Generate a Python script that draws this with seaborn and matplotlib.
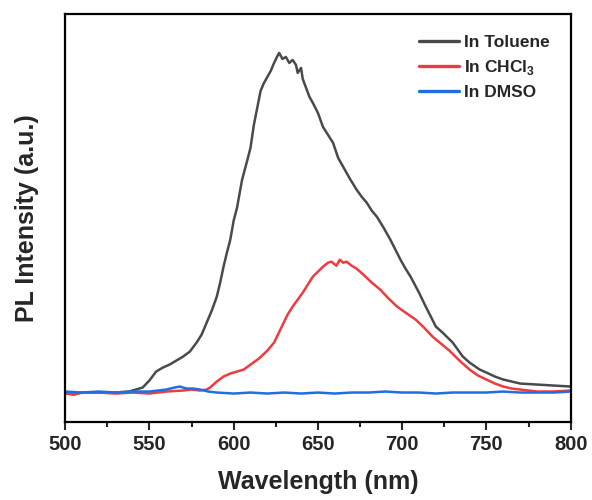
import pandas as pd
import matplotlib
matplotlib.use('Agg')
import matplotlib.pyplot as plt
from matplotlib.ticker import MultipleLocator
import seaborn as sns

# PL spectra in three solvents (arbitrary units)
wl_tol = [500, 505, 510, 520, 530, 538, 546, 550, 554, 558, 562, 566, 570, 574, 578, 581, 584, 587,
          590, 592, 594, 596, 598, 600, 602, 605, 608, 610, 612, 614, 616, 618, 620, 622, 624, 626,
          627, 629, 631, 633, 635, 637, 638, 640, 641, 643, 645, 647, 650, 653, 656, 659, 662, 665,
          669, 673, 676, 679, 682, 685, 689, 693, 696, 699, 702, 705, 710, 714, 720, 724, 730, 736,
          740, 746, 750, 755, 760, 765, 770, 780, 790, 800]
pl_tol = [0, -2, 0, 0, 0, 1, 5, 12, 21, 25, 28, 32, 36, 41, 50, 58, 70, 82,
          96, 110, 126, 140, 153, 172, 185, 213, 232, 245, 268, 285, 302, 310, 316, 322, 330, 337,
          340, 334, 336, 330, 333, 328, 320, 325, 314, 305, 296, 290, 280, 266, 258, 250, 235, 226,
          214, 203, 196, 190, 182, 176, 165, 153, 143, 133, 124, 116, 100, 86, 66, 60, 50, 36,
          30, 23, 20, 16, 13, 11, 9, 8, 7, 6]

wl_chcl3 = [500, 505, 510, 520, 530, 540, 550, 560, 570, 575, 580, 584, 586, 590, 594, 598, 602, 606,
            610, 615, 620, 624, 628, 632, 635, 638, 641, 644, 647, 650, 653, 656, 658, 661, 663, 665,
            667, 670, 673, 677, 682, 687, 692, 697, 702, 708, 713, 718, 723, 728, 734, 740, 745, 750,
            755, 760, 765, 770, 780, 790, 800]
pl_chcl3 = [-1, -2, 0, 0, -1, 0, -1, 1, 2, 3, 2, 3, 5, 11, 16, 19, 21, 23,
            28, 34, 42, 50, 64, 78, 86, 93, 100, 108, 116, 121, 126, 130, 131, 127, 133, 130,
            131, 127, 124, 118, 110, 103, 94, 86, 80, 73, 65, 56, 49, 42, 32, 23, 17, 13,
            9, 6, 4, 3, 1, 1, 2]

wl_dmso = [500, 510, 520, 530, 540, 550, 555, 560, 565, 568, 572, 576, 580, 585, 590, 600, 610, 620,
           630, 640, 650, 660, 670, 680, 690, 700, 710, 720, 730, 740, 750, 760, 770, 780, 790, 800]
pl_dmso = [1, 0, 1, 0, 1, 1, 2, 3, 5, 6, 4, 4, 3, 1, 0, -1, 0, -1,
           0, -1, 0, -1, 0, 0, 1, 0, 0, -1, 0, 0, 0, 1, 0, 0, 0, 1]

labels = ['In Toluene', r'In CHCl$_{\mathbf{3}}$', 'In DMSO']
colors = ['#4a4a4a', '#ef3b3e', '#1f6fe3']

df = pd.concat([
    pd.DataFrame({'wl': wl_tol, 'pl': pl_tol, 'solvent': labels[0]}),
    pd.DataFrame({'wl': wl_chcl3, 'pl': pl_chcl3, 'solvent': labels[1]}),
    pd.DataFrame({'wl': wl_dmso, 'pl': pl_dmso, 'solvent': labels[2]}),
])

sns.set_style('white')
plt.rcParams['font.family'] = ['Liberation Sans', 'DejaVu Sans']
plt.rcParams['font.weight'] = 'bold'
plt.rcParams['mathtext.fontset'] = 'custom'
plt.rcParams['mathtext.rm'] = 'Liberation Sans:bold'
plt.rcParams['mathtext.bf'] = 'Liberation Sans:bold'

fig = plt.figure(figsize=(5.92, 5.0), dpi=100)
ax = fig.add_axes([0.11, 0.157, 0.854, 0.815])

sns.lineplot(data=df, x='wl', y='pl', hue='solvent', palette=dict(zip(labels, colors)),
             estimator=None, linewidth=1.8, ax=ax)

ax.set_xlim(500, 800)
ax.set_ylim(-29, 379)
ax.xaxis.set_major_locator(MultipleLocator(50))
ax.xaxis.set_minor_locator(MultipleLocator(25))
ax.set_yticks([])
ax.tick_params(axis='x', which='major', direction='out', length=6, width=1.5,
               labelsize=14.5, pad=4, bottom=True)
ax.tick_params(axis='x', which='minor', direction='out', length=3.5, width=1.5, bottom=True)
for lab in ax.get_xticklabels():
    lab.set_fontweight('bold')
for s in ax.spines.values():
    s.set_linewidth(1.6)
    s.set_color('black')

ax.set_xlabel('Wavelength (nm)', fontsize=18, fontweight='bold', labelpad=11)
ax.set_ylabel('PL Intensity (a.u.)', fontsize=18, fontweight='bold', labelpad=19)

leg = ax.legend(loc='upper right', frameon=False, fontsize=12.5, handlelength=2.3,
                handletextpad=0.3, labelspacing=0.45, borderaxespad=0.8, title=None)
for t in leg.get_texts():
    t.set_fontweight('bold')
for h in leg.get_lines():
    h.set_linewidth(2.4)

fig.savefig('out.png', dpi=100)
